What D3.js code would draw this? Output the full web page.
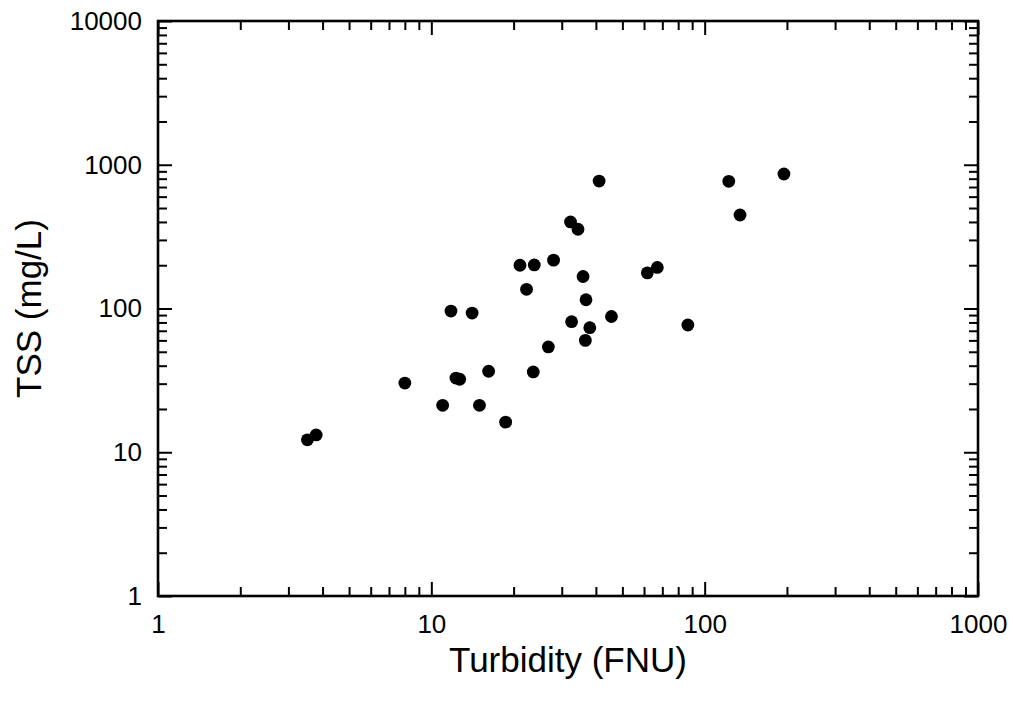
<!DOCTYPE html>
<html>
<head>
<meta charset="utf-8">
<script src="https://cdn.jsdelivr.net/npm/d3@7"></script>
<style>
  html, body { margin: 0; padding: 0; background: #fff; }
  svg text { font-family: "Liberation Sans", Arial, Helvetica, sans-serif; fill: #000; }
</style>
</head>
<body>
<svg id="chart"></svg>
<script>
// turbidity (FNU) vs TSS (mg/L)
const turbidity = [41.1, 32.3, 34.4, 21.1, 23.8, 28.0, 35.9, 61.7, 67.1, 22.3, 36.8,
                   11.8, 14.1, 45.6, 32.6, 38.0, 36.6, 26.8, 16.2, 23.6, 12.3, 12.7,
                   8.0, 11.0, 15.0, 18.7, 3.52, 3.79, 122.5, 195, 134.7, 86.8];
const tss = [770, 400, 356, 200, 201, 217, 167, 177, 193, 136, 115,
             96, 93, 88, 81, 73.5, 60, 54, 36.6, 36.2, 32.8, 32.2,
             30.3, 21.2, 21.2, 16.2, 12.2, 13.2, 767, 862, 447, 76.8];

const xMajor = [1, 10, 100, 1000];
const yMajor = [1, 10, 100, 1000, 10000];
const xTitle = "Turbidity (FNU)";
const yTitle = "TSS (mg/L)";

const svgWidth = 1013, svgHeight = 702;
const margin = {top: 21, right: 35, bottom: 106, left: 158};
const width = svgWidth - margin.left - margin.right;
const height = svgHeight - margin.top - margin.bottom;

function minorTicks(majors) {
    let out = [];
    for (let i = 0; i < majors.length - 1; i++) {
        for (let k = 2; k <= 9; k++) out.push(majors[i] * k);
    }
    return out;
}

let svg = d3.select("#chart")
    .attr("width", svgWidth)
    .attr("height", svgHeight);

let g = svg.append("g")
    .attr("transform", `translate(${margin.left},${margin.top})`);

let x = d3.scaleLog().domain([1, 1000]).range([0, width]);
let y = d3.scaleLog().domain([1, 10000]).range([height, 0]);

const fmt = d3.format("d");
const majorLen = 14, minorLen = 9;

// major ticks with labels
g.append("g").attr("class", "x-axis")
    .attr("transform", `translate(0,${height})`)
    .call(d3.axisBottom(x).tickValues(xMajor).tickFormat(fmt)
        .tickSize(-majorLen).tickSizeOuter(0).tickPadding(19));

g.append("g").attr("class", "y-axis")
    .call(d3.axisLeft(y).tickValues(yMajor).tickFormat(fmt)
        .tickSize(-majorLen).tickSizeOuter(0).tickPadding(16));

// mirrored major ticks
g.append("g").attr("class", "x-top")
    .call(d3.axisTop(x).tickValues(xMajor).tickFormat("")
        .tickSize(-majorLen).tickSizeOuter(0));
g.append("g").attr("class", "y-right")
    .attr("transform", `translate(${width},0)`)
    .call(d3.axisRight(y).tickValues(yMajor).tickFormat("")
        .tickSize(-majorLen).tickSizeOuter(0));

// minor ticks on all four sides
g.append("g").attr("transform", `translate(0,${height})`)
    .call(d3.axisBottom(x).tickValues(minorTicks(xMajor)).tickFormat("")
        .tickSize(-minorLen).tickSizeOuter(0));
g.append("g")
    .call(d3.axisTop(x).tickValues(minorTicks(xMajor)).tickFormat("")
        .tickSize(-minorLen).tickSizeOuter(0));
g.append("g")
    .call(d3.axisLeft(y).tickValues(minorTicks(yMajor)).tickFormat("")
        .tickSize(-minorLen).tickSizeOuter(0));
g.append("g").attr("transform", `translate(${width},0)`)
    .call(d3.axisRight(y).tickValues(minorTicks(yMajor)).tickFormat("")
        .tickSize(-minorLen).tickSizeOuter(0));

g.selectAll(".domain").remove();
g.selectAll(".tick line").attr("stroke", "#000").attr("stroke-width", 2);
g.selectAll(".tick text").style("font-size", "26px").attr("fill", "#000");

// frame
g.append("rect")
    .attr("x", 0).attr("y", 0)
    .attr("width", width).attr("height", height)
    .attr("fill", "none")
    .attr("stroke", "#000")
    .attr("stroke-width", 2.6);

// points
g.selectAll("circle.pt")
    .data(turbidity.map((t, i) => ({t: t, s: tss[i]})))
    .enter()
    .append("circle")
    .attr("class", "pt")
    .attr("cx", d => x(d.t))
    .attr("cy", d => y(d.s))
    .attr("r", 6.4)
    .attr("fill", "#000");

// axis titles
svg.append("text")
    .attr("x", margin.left + width / 2)
    .attr("y", 672)
    .attr("text-anchor", "middle")
    .style("font-size", "35px")
    .text(xTitle);

svg.append("text")
    .attr("transform", `translate(41,${margin.top + height / 2}) rotate(-90)`)
    .attr("text-anchor", "middle")
    .style("font-size", "35px")
    .text(yTitle);
</script>
</body>
</html>
